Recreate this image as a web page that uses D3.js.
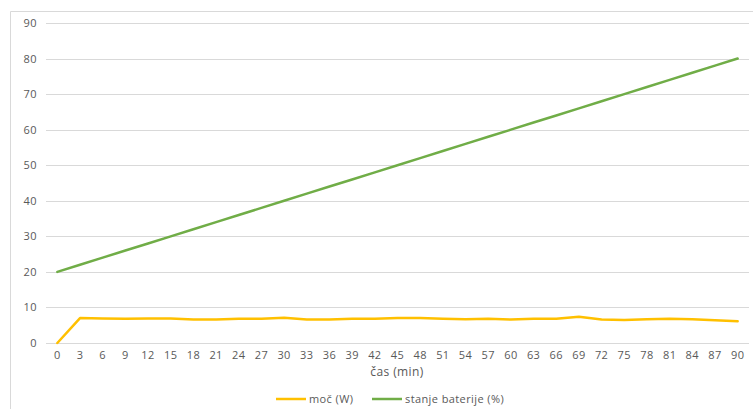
<!DOCTYPE html>
<html>
<head>
<meta charset="utf-8">
<script src="https://cdn.jsdelivr.net/npm/d3@7"></script>
<style>
  body { margin: 0; background: #fff; }
  svg text { font-family: "Open Sans", sans-serif; fill: #595959; }
</style>
</head>
<body>
<svg id="chart" width="753" height="409"></svg>
<script>
const minutes = [0, 3, 6, 9, 12, 15, 18, 21, 24, 27, 30, 33, 36, 39, 42, 45, 48, 51, 54, 57, 60, 63, 66, 69, 72, 75, 78, 81, 84, 87, 90];
const power = [0, 7.0, 6.9, 6.8, 6.9, 6.9, 6.6, 6.6, 6.8, 6.8, 7.1, 6.6, 6.6, 6.8, 6.8, 7.0, 7.0, 6.8, 6.7, 6.8, 6.6, 6.8, 6.8, 7.4, 6.6, 6.5, 6.7, 6.8, 6.7, 6.4, 6.1];
const battery = [20, 22, 24, 26, 28, 30, 32, 34, 36, 38, 40, 42, 44, 46, 48, 50, 52, 54, 56, 58, 60, 62, 64, 66, 68, 70, 72, 74, 76, 78, 80];
const yTicks = [0, 10, 20, 30, 40, 50, 60, 70, 80, 90];
const seriesNames = ["moč (W)", "stanje baterije (%)"];
const seriesColors = ["#FFC000", "#70AD47"];

const svg = d3.select("#chart");

// chart frame
svg.append("path")
  .attr("d", "M10.5,409 V11.5 H753")
  .attr("fill", "none")
  .attr("stroke", "#d9d9d9");

const x = d3.scaleBand()
  .domain(minutes)
  .range([46, 749]);

const y = d3.scaleLinear()
  .domain([0, 90])
  .range([343, 23]);

// gridlines
svg.append("g")
  .selectAll("line")
  .data(yTicks)
  .join("line")
  .attr("x1", 46)
  .attr("x2", 749)
  .attr("y1", d => Math.round(y(d)) + 0.5)
  .attr("y2", d => Math.round(y(d)) + 0.5)
  .attr("stroke", "#d9d9d9")
  .attr("stroke-width", 1);

// y axis labels
const yAxis = svg.append("g")
  .attr("transform", "translate(37,0)")
  .call(d3.axisLeft(y).tickValues(yTicks).tickSize(0).tickPadding(0));
yAxis.select(".domain").remove();
yAxis.selectAll("text")
  .attr("font-size", 11)
  .attr("letter-spacing", 0.4)
  .style("font-family", "'Open Sans', sans-serif")
  .attr("fill", "#595959");

// x axis labels
const xAxis = svg.append("g")
  .attr("transform", "translate(0,343)")
  .call(d3.axisBottom(x).tickSize(0).tickPadding(8));
xAxis.select(".domain").remove();
xAxis.selectAll("text")
  .attr("font-size", 11)
  .attr("letter-spacing", 0.4)
  .style("font-family", "'Open Sans', sans-serif")
  .attr("fill", "#595959");

svg.append("text")
  .attr("x", 397)
  .attr("y", 376)
  .attr("text-anchor", "middle")
  .attr("font-size", 12)
  .attr("letter-spacing", 0.4)
  .text("čas (min)");

const line = d3.line()
  .x((d, i) => x(minutes[i]) + x.bandwidth() / 2)
  .y(d => y(d));

[battery, power].forEach((s, k) => {
  svg.append("path")
    .datum(s)
    .attr("fill", "none")
    .attr("stroke", k === 0 ? seriesColors[1] : seriesColors[0])
    .attr("stroke-width", 2.5)
    .attr("stroke-linejoin", "round")
    .attr("stroke-linecap", "round")
    .attr("d", line);
});

// legend
const legendX = [276, 372];
const legend = svg.append("g")
  .selectAll("g")
  .data(seriesNames)
  .join("g")
  .attr("transform", (d, i) => `translate(${legendX[i]},399)`);
legend.append("line")
  .attr("x1", 0).attr("x2", 30)
  .attr("stroke", (d, i) => seriesColors[i])
  .attr("stroke-width", 2.5);
legend.append("text")
  .attr("x", 33)
  .attr("dy", "0.35em")
  .attr("font-size", 11)
  .attr("letter-spacing", 0.4)
  .text(d => d);
</script>
</body>
</html>
